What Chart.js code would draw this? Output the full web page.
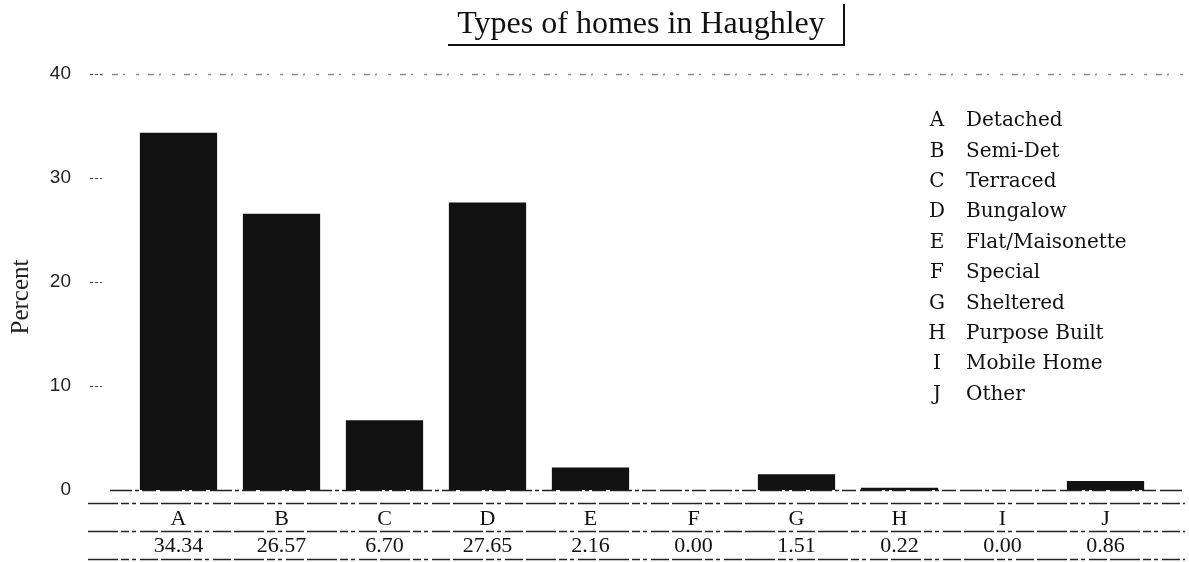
<!DOCTYPE html>
<html>
<head>
<meta charset="utf-8">
<script src="https://cdn.jsdelivr.net/npm/chart.js@4.4.1/dist/chart.umd.min.js"></script>
<style>
html,body{margin:0;padding:0;background:#fff;}
#wrap{position:relative;width:1189px;height:562px;}
</style>
</head>
<body>
<div id="wrap"><canvas id="c" width="1189" height="562"></canvas></div>
<script>
const title = "Types of homes in Haughley";
const categories = ["A","B","C","D","E","F","G","H","I","J"];
const percents = [34.34, 26.57, 6.70, 27.65, 2.16, 0.00, 1.51, 0.22, 0.00, 0.86];
const typeNames = ["Detached","Semi-Det","Terraced","Bungalow","Flat/Maisonette","Special","Sheltered","Purpose Built","Mobile Home","Other"];
const yTicks = [0, 10, 20, 30, 40];
const yLabel = "Percent";

const SERIF = '"Liberation Serif", "Times New Roman", serif';
const LEG = '"DejaVu Serif", serif';

const extras = {
  id: 'extras',
  afterDraw(chart) {
    const ctx = chart.ctx;
    const x = chart.scales.x, y = chart.scales.y;
    ctx.save();
    // top dotted line at 40
    ctx.strokeStyle = '#888';
    ctx.lineWidth = 1.5;
    ctx.setLineDash([3, 9, 6, 5, 2, 11]);
    const ty = Math.round(y.getPixelForValue(40)) + 0.5;
    ctx.beginPath(); ctx.moveTo(100, ty); ctx.lineTo(1185, ty); ctx.stroke();
    // tick dashes
    ctx.setLineDash([3, 2]);
    ctx.strokeStyle = '#444';
    ctx.lineWidth = 1.2;
    yTicks.forEach(v => {
      if (v === 0) return;
      const py = Math.round(y.getPixelForValue(v)) + 0.5;
      ctx.beginPath(); ctx.moveTo(90, py); ctx.lineTo(102, py); ctx.stroke();
    });
    // baseline
    const by = Math.round(y.getPixelForValue(0)) + 0.5;
    ctx.strokeStyle = '#222';
    ctx.lineWidth = 1.5;
    ctx.setLineDash([22, 3, 4, 3, 14, 4]);
    ctx.beginPath(); ctx.moveTo(110, by); ctx.lineTo(1185, by); ctx.stroke();
    // table lines
    const lines = [503.5, 531.5, 559.5];
    ctx.setLineDash([30, 3, 8, 3, 4, 4, 18, 3]);
    ctx.lineWidth = 1.4;
    lines.forEach(ly => {
      ctx.beginPath(); ctx.moveTo(88, ly); ctx.lineTo(1185, ly); ctx.stroke();
    });
    ctx.setLineDash([]);
    // category letters and values
    ctx.fillStyle = '#111';
    ctx.textAlign = 'center';
    ctx.textBaseline = 'middle';
    ctx.font = '22px ' + SERIF;
    categories.forEach((c, i) => {
      ctx.fillText(c, x.getPixelForValue(i), 519);
    });
    percents.forEach((v, i) => {
      ctx.fillText(v.toFixed(2), x.getPixelForValue(i), 546);
    });
    // legend
    ctx.font = '20px ' + LEG;
    categories.forEach((c, i) => {
      const ly = 121 + i * 30.4;
      ctx.textAlign = 'center';
      ctx.fillText(c, 937, ly);
      ctx.textAlign = 'left';
      ctx.fillText(typeNames[i], 966, ly);
    });
    // y axis label
    ctx.save();
    ctx.translate(21, 297);
    ctx.rotate(-Math.PI / 2);
    ctx.textAlign = 'center';
    ctx.textBaseline = 'middle';
    ctx.font = '25px ' + SERIF;
    ctx.fillStyle = '#222';
    ctx.fillText(yLabel, 0, 0);
    ctx.restore();
    // title
    ctx.textAlign = 'center';
    ctx.textBaseline = 'alphabetic';
    ctx.font = '32px ' + SERIF;
    ctx.fillText(title, 641, 33);
    ctx.strokeStyle = '#111';
    ctx.lineWidth = 2;
    ctx.beginPath();
    ctx.moveTo(448, 45); ctx.lineTo(845, 45);
    ctx.moveTo(844, 4); ctx.lineTo(844, 46);
    ctx.stroke();
    ctx.restore();
  }
};

new Chart(document.getElementById('c'), {
  type: 'bar',
  data: {
    labels: categories,
    datasets: [{
      data: percents,
      backgroundColor: '#111',
      borderWidth: 0,
      barPercentage: 0.75,
      categoryPercentage: 1.0
    }]
  },
  options: {
    responsive: false,
    animation: false,
    devicePixelRatio: 1,
    layout: { padding: { top: 74, bottom: 72, left: 0, right: 32 } },
    plugins: { legend: { display: false }, tooltip: { enabled: false }, title: { display: false } },
    scales: {
      x: { display: false },
      y: {
        min: 0, max: 40,
        afterFit(s) { s.width = 127; },
        afterBuildTicks(s) { s.ticks = yTicks.map(v => ({ value: v })); },
        border: { display: false },
        grid: { display: false },
        ticks: {
          padding: 48,
          color: '#222',
          font: { family: '"Liberation Sans", sans-serif', size: 19 }
        },
        title: { display: false }
      }
    }
  },
  plugins: [extras]
});
</script>
</body>
</html>
